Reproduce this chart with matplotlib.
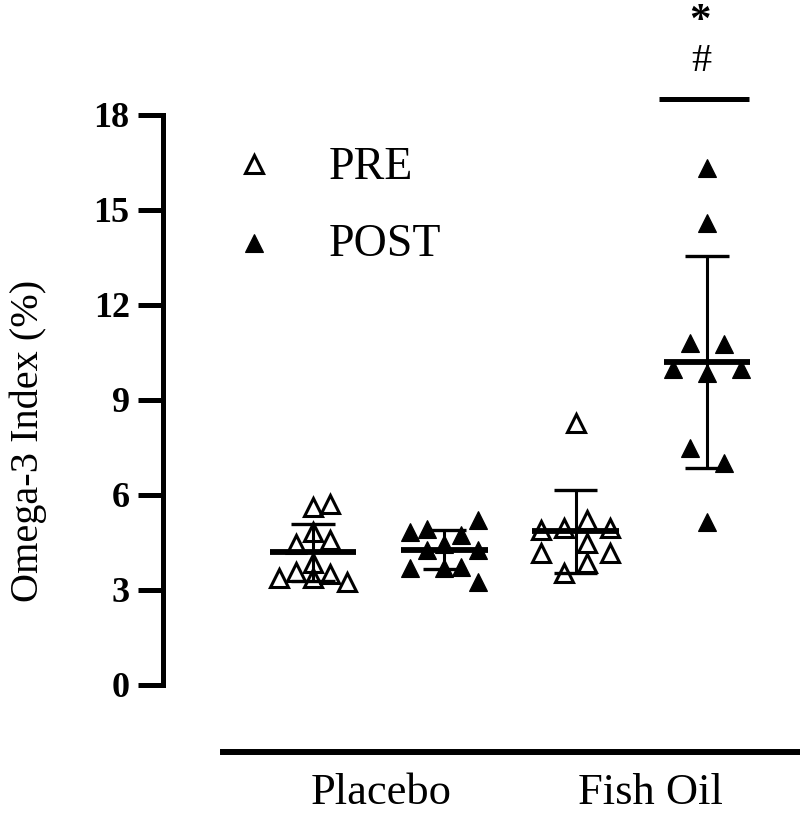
"""
Omega-3 index before and after supplementation (placebo vs fish oil),
scatter of individual values with mean +/- SD, GraphPad-like styling.
"""

import numpy as np
import matplotlib
matplotlib.use("Agg")
import matplotlib.pyplot as plt

plt.rcParams["font.family"] = ["Liberation Serif", "DejaVu Serif"]

# ---------------------------------------------------------------------------
# Data
# ---------------------------------------------------------------------------
groups = ["Placebo", "Fish Oil"]
legend_labels = ["PRE", "POST"]

placebo_pre = [5.62, 5.72, 4.83, 4.45, 4.58, 3.85, 3.57, 3.38, 3.38, 3.50, 3.25]
placebo_post = [4.83, 4.93, 5.21, 4.74, 4.45, 4.26, 4.26, 3.69, 3.69, 3.73, 3.25]
fish_pre = [8.27, 5.21, 4.89, 4.96, 4.96, 4.48, 4.17, 4.17, 3.85, 3.54]
fish_post = [16.32, 14.59, 10.80, 10.77, 9.98, 9.85, 9.98, 7.48, 7.01, 5.15]

# horizontal scatter column of each point (GraphPad style)
placebo_pre_col = [0, 1, 0, -1, 1, 0, -1, -2, 0, 1, 2]
placebo_post_col = [-2, -1, 2, 1, 0, -1, 2, -2, 0, 1, 2]
fish_pre_col = [0, 0.65, -2, -0.65, 2, 0.65, -2, 2, 0.65, -0.65]
fish_post_col = [0, 0, -1, 1, -2, 0, 2, -1, 1, 0]

y_ticks = [0, 3, 6, 9, 12, 15, 18]
sig_marks = ["*", "#"]

# ---------------------------------------------------------------------------
# Figure / axes
# ---------------------------------------------------------------------------
W, H = 800, 816
fig = plt.figure(figsize=(W / 100, H / 100), dpi=100)
ax = fig.add_axes([163 / W, 64 / H, 637 / W, 752 / H])
ax.set_xlim(-0.142, 4.709)
ax.set_ylim(-2.116, 21.63)

series = [
    (1, placebo_pre, placebo_pre_col, False),
    (2, placebo_post, placebo_post_col, True),
    (3, fish_pre, fish_pre_col, False),
    (4, fish_post, fish_post_col, True),
]
step = 0.13
for pos, vals, cols, filled in series:
    vals = np.array(vals)
    xs = pos + step * np.array(cols)
    if filled:
        ax.plot(xs, vals, "^", ms=13.5, color="black", mew=0.8, zorder=3,
                clip_on=False)
    else:
        ax.plot(xs, vals, "^", ms=12.5, mfc="white", mec="black", mew=2.2,
                zorder=3, clip_on=False)
    m, sd = vals.mean(), vals.std(ddof=1)
    ax.hlines(m, pos - 0.33, pos + 0.33, color="black", lw=4.2, zorder=4)
    ax.vlines(pos, m - sd, m + sd, color="black", lw=2.2, zorder=4)
    ax.hlines([m - sd, m + sd], pos - 0.165, pos + 0.165, color="black",
              lw=2.4, zorder=4)

# legend drawn by hand
ax.plot(0.55, 16.45, "^", ms=12.5, mfc="white", mec="black", mew=2.2,
        clip_on=False)
ax.plot(0.55, 13.95, "^", ms=13.5, color="black", mew=0.8, clip_on=False)
ax.text(1.12, 15.98, legend_labels[0], fontsize=33, va="baseline", ha="left")
ax.text(1.12, 13.55, legend_labels[1], fontsize=33, va="baseline", ha="left")

# significance bar over Fish Oil POST
ax.hlines(18.5, 3.635, 4.32, color="black", lw=3.6, clip_on=False)
ax.text(3.95, 20.95, sig_marks[0], fontsize=31, fontweight="bold",
        ha="center", va="center")
ax.text(3.96, 19.68, sig_marks[1], fontsize=29, ha="center", va="center")

# axes styling
for side in ["top", "right"]:
    ax.spines[side].set_visible(False)
ax.spines["left"].set_bounds(0, 18)
ax.spines["left"].set_linewidth(3.6)
ax.spines["bottom"].set_bounds(0.315, 4.709)
ax.spines["bottom"].set_linewidth(4.3)

ax.set_yticks(y_ticks)
ax.set_yticklabels([str(t) for t in y_ticks], fontsize=26, fontweight="bold")
ax.tick_params(axis="y", length=18, width=3.6, pad=6)

ax.set_xticks([1.52, 3.57])
ax.set_xticklabels(groups, fontsize=32)
ax.tick_params(axis="x", length=0, pad=15)

fig.text(28 / W, 1 - 441 / H, "Omega-3 Index (%)", fontsize=29,
         rotation=90, ha="center", va="center")

fig.savefig("out.png", dpi=100)
